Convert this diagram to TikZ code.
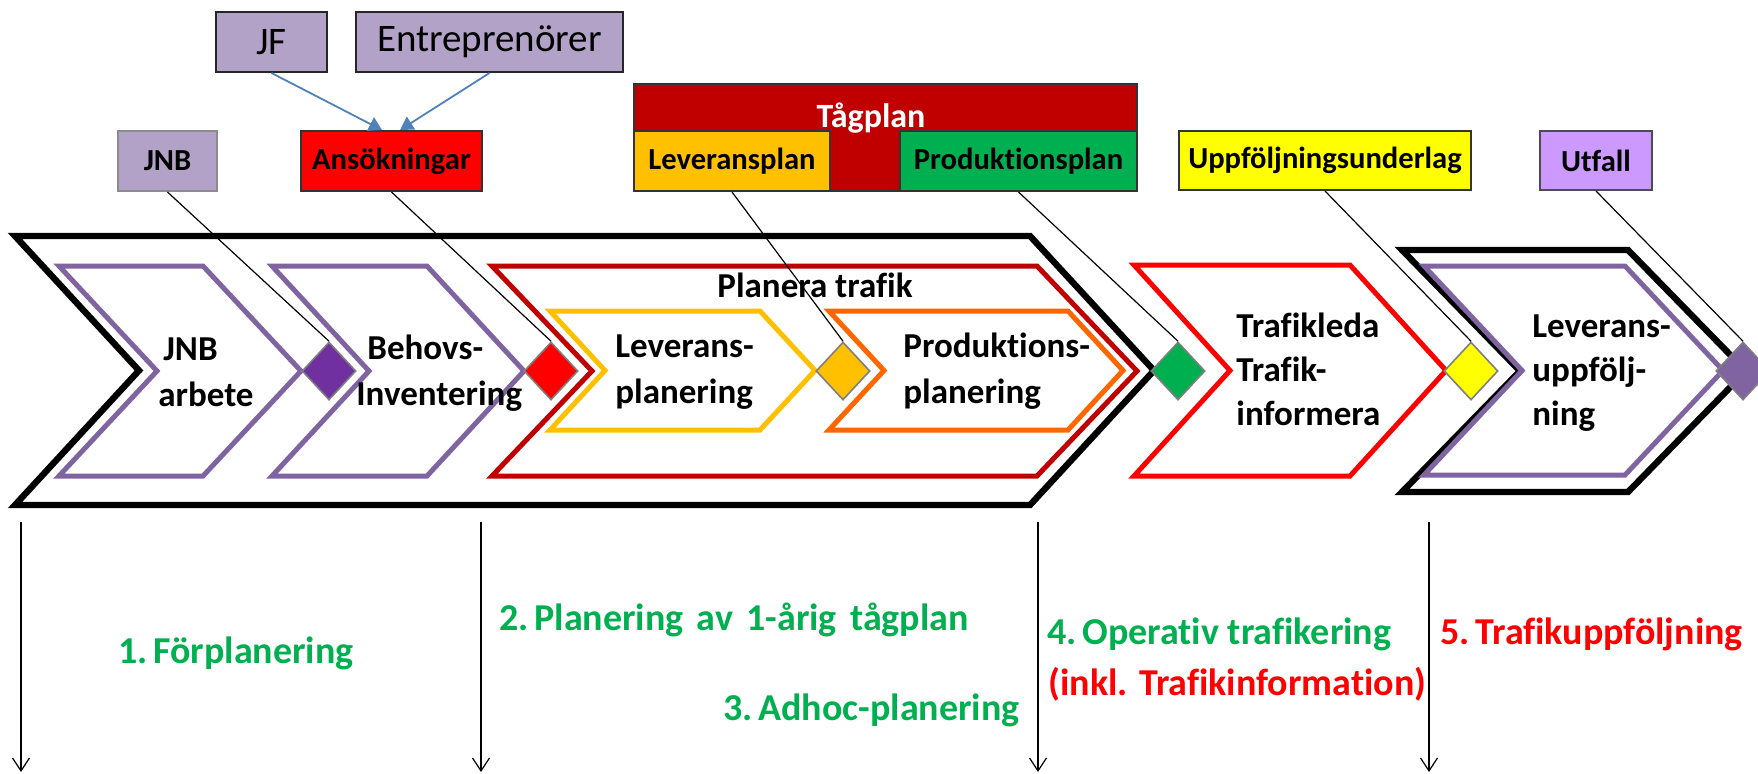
\documentclass[tikz,border=0pt]{standalone}
\usepackage{fontspec}
\setmainfont{Carlito}[Ligatures=NoCommon]
\usetikzlibrary{shapes.geometric,arrows.meta}
\definecolor{purp}{HTML}{8064A2}
\definecolor{dpurp}{HTML}{7030A0}
\definecolor{dred}{HTML}{C00000}
\definecolor{gold}{HTML}{FFC000}
\definecolor{orng}{HTML}{FF6600}
\definecolor{grn}{HTML}{00B050}
\definecolor{lav}{HTML}{B3A2C7}
\definecolor{lilac}{HTML}{CC99FF}
\definecolor{blu}{HTML}{4F81BD}
\definecolor{yel}{HTML}{FFFF00}
\definecolor{rd}{HTML}{FF0000}
\definecolor{dgray}{HTML}{7F7F7F}
% style, left x, right x, top y, bottom y, depth
\newcommand\mychev[6]{\draw[#1] (#2,#4) -- (#3,#4) -- ({#3+#6},{(#4+#5)/2}) -- (#3,#5) -- (#2,#5) -- ({#2+#6},{(#4+#5)/2}) -- cycle;}
\begin{document}
\begin{tikzpicture}[x=0.5pt,y=-0.5pt,line join=miter,miter limit=20,
  chevblack/.style={draw=black,line width=3.2pt},
  chevcol/.style={draw=#1,line width=2.5pt},
  dia/.style={diamond,draw=dgray,line width=0.8pt,fill=#1,minimum width=27pt,minimum height=29pt,inner sep=0pt},
  tagbox/.style={draw=black!80,line width=1pt,inner sep=0pt,font=\fontsize{15.3pt}{17pt}\selectfont\bfseries},
  srcbox/.style={draw=black!85,fill=lav,line width=1pt,inner sep=0pt,minimum height=30pt,font=\fontsize{19.5pt}{22pt}\selectfont},
  conn/.style={draw=black,line width=0.6pt},
  blueconn/.style={draw=blu,line width=0.9pt,-{Triangle[length=6.5pt,width=7.5pt]}},
  chevtext/.style={font=\fontsize{17.5pt}{23pt}\selectfont\bfseries,inner sep=0pt},
  chevtextb/.style={font=\fontsize{17.5pt}{22pt}\selectfont\bfseries,inner sep=0pt},
  phase/.style={font=\fontsize{19pt}{23pt}\selectfont\bfseries,inner sep=0pt,anchor=base west},
  timearrow/.style={draw=black,line width=0.6pt,-{Straight Barb[length=6.5pt,width=8.5pt]}}]
\useasboundingbox (0,0) rectangle (1758,773);

% ---------- chevrons ----------
\mychev{chevblack}{15}{1030}{236}{505}{124}
\mychev{chevcol=purp}{59}{203}{266}{476}{98}
\mychev{chevcol=purp}{272}{427}{266}{476}{97}
\mychev{chevcol=dred}{492}{1037}{266}{476}{100}
\mychev{chevcol=gold}{550}{760}{311}{430}{55}
\mychev{chevcol=orng}{829}{1068}{311}{430}{55}
\mychev{chevcol=rd}{1134}{1350}{265}{476}{96}
\mychev{chevblack}{1402}{1628}{250}{492}{118}
\mychev{chevcol=purp}{1424}{1625}{266}{475}{98}

% ---------- diamonds ----------
\node[dia=dpurp] (d1) at (329,371) {};
\node[dia=rd]    (d2) at (551,371) {};
\node[dia=gold]  (d3) at (843,371) {};
\node[dia=grn]   (d4) at (1178,371) {};
\node[dia=yel]   (d5) at (1471,371) {};
\node[dia=purp]  (d6) at (1743,371) {};

% ---------- chevron texts (anchor = baseline of last line) ----------
\node[chevtext,align=left,anchor=base west] (t1) at (158,406) {\hspace*{2.5pt}JNB\\arbete};
\node[chevtext,align=left,anchor=base west] (t2) at (356,405) {\hspace*{5.5pt}Behovs-\\Inventering};
\node[chevtext,anchor=base] (t3) at (815,297) {Planera trafik};
\node[chevtext,align=left,anchor=base west] (t4) at (615,403) {Leverans-\\planering};
\node[chevtext,align=left,anchor=base west] (t5) at (903,403) {Produktions-\\planering};
\node[chevtextb,align=left,anchor=base west] (t6) at (1236,425) {Trafikleda\\Trafik-\\informera};
\node[chevtextb,align=left,anchor=base west] (t7) at (1532,425) {Leverans-\\uppfölj-\\ning};

% ---------- top boxes ----------
\node[srcbox,minimum width=55.5pt] (jf) at (271.5,42) {JF};
\node[srcbox,minimum width=133.5pt] (entr) at (489.5,42) {Entreprenörer};
\node[tagbox,draw=black!45,fill=lav,minimum width=49.5pt,minimum height=30pt] (jnb) at (167.5,161) {JNB};
\node[tagbox,fill=rd,minimum width=90.5pt,minimum height=30pt] (ans) at (391.5,161) {Ansökningar};
\node[draw=black!80,line width=0.8pt,fill=dred,inner sep=0pt,minimum width=251.5pt,minimum height=53.5pt] (tag) at (885.5,137.5) {};
\node[font=\fontsize{17pt}{20pt}\selectfont\bfseries,text=white,inner sep=0pt,anchor=base] (tagtxt) at (871,127) {Tågplan};
\node[tagbox,fill=gold,minimum width=98pt,minimum height=30pt] (lev) at (732,161) {Leveransplan};
\node[tagbox,fill=grn,minimum width=118.5pt,minimum height=30pt] (prod) at (1018.5,161) {Produktionsplan};
\node[tagbox,fill=yel,minimum width=146pt,minimum height=29.5pt] (upp) at (1325,160.5) {Uppföljningsunderlag};
\node[tagbox,draw=black!70,fill=lilac,minimum width=56pt,minimum height=29.5pt] (utf) at (1596,160.5) {Utfall};

% ---------- connectors ----------
\draw[blueconn] (jf.south) -- ([xshift=-4.75pt]ans.north);
\draw[blueconn] (entr.south) -- ([xshift=4.25pt]ans.north);
\draw[conn] (jnb.south) -- (d1.north);
\draw[conn] (ans.south) -- (d2.north);
\draw[conn] (lev.south) -- (d3.north);
\draw[conn] (prod.south) -- (d4.north);
\draw[conn] (upp.south) -- (d5.north);
\draw[conn] (utf.south) -- (d6.north);

% ---------- time arrows ----------
\coordinate (a1s) at (21,522);  \coordinate (a1e) at (21,772);
\coordinate (a2s) at (481,522); \coordinate (a2e) at (481,772);
\coordinate (a3s) at (1038,522);\coordinate (a3e) at (1038,772);
\coordinate (a4s) at (1429,522);\coordinate (a4e) at (1429,772);
\draw[timearrow] (a1s) -- (a1e);
\draw[timearrow] (a2s) -- (a2e);
\draw[timearrow] (a3s) -- (a3e);
\draw[timearrow] (a4s) -- (a4e);

% ---------- phase labels ----------
\node[phase,text=grn] (p1) at (118,663) {1.\hspace{0.15em}Förplanering};
\node[phase,text=grn] (p2) at (499,630) {2.\hspace{0.15em}Planering\hspace{0.35em}av\hspace{0.35em}1-årig\hspace{0.35em}tågplan};
\node[phase,text=grn] (p3) at (723,720) {3.\hspace{0.15em}Adhoc-planering};
\node[phase,text=grn] (p4) at (1047,644) {4.\hspace{0.15em}Operativ trafikering};
\node[phase,text=rd] (p4b) at (1048,695) {(inkl. Trafikinformation)};
\node[phase,text=rd] (p5) at (1440,644) {5.\hspace{0.15em}Trafikuppföljning};
\end{tikzpicture}
\end{document}
